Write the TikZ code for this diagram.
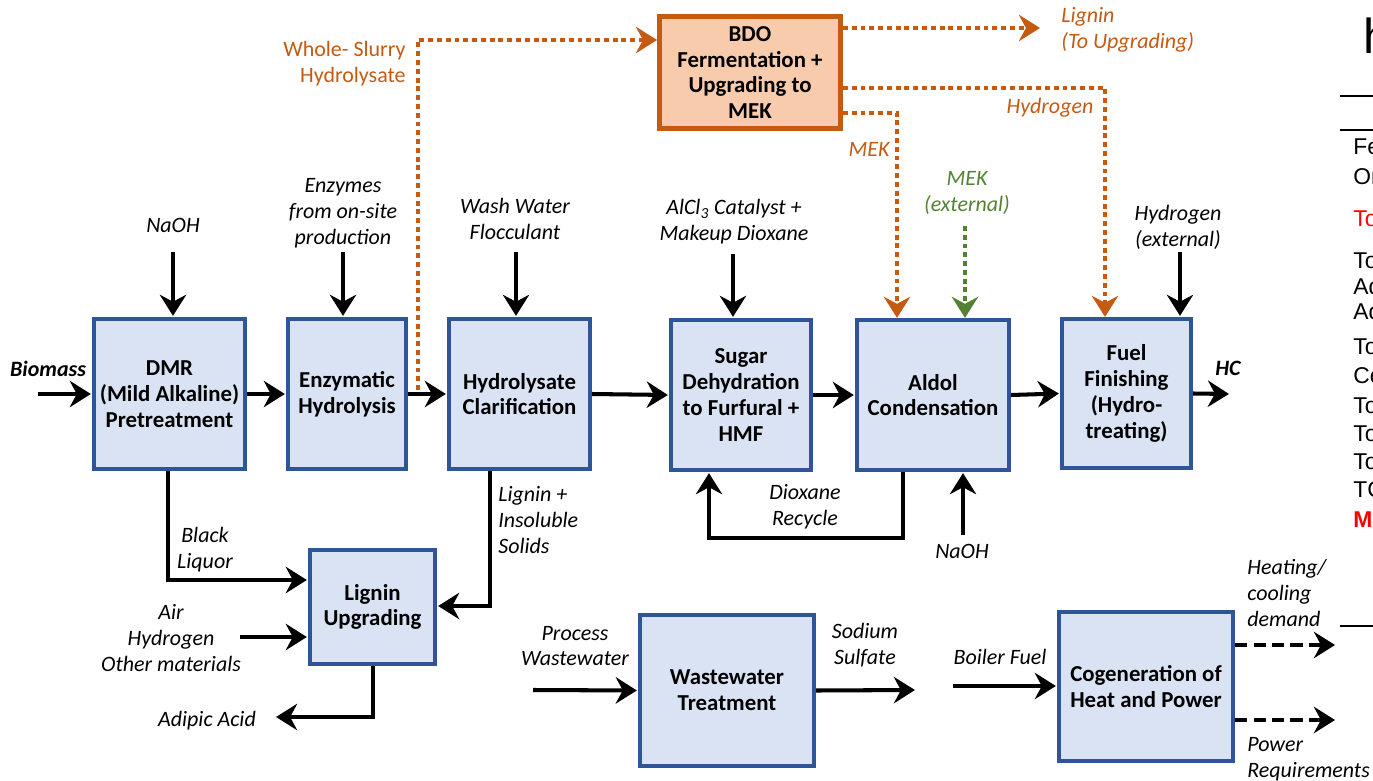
\documentclass[tikz,border=0pt]{standalone}
\usepackage{fontspec}
\setmainfont{Carlito}
\newfontfamily\tablefont{Liberation Sans}
\usetikzlibrary{arrows.meta}
\definecolor{boxblue}{HTML}{2F5597}
\definecolor{boxfill}{HTML}{DAE3F3}
\definecolor{bdoline}{HTML}{C55A11}
\definecolor{bdofill}{HTML}{F8CBAD}
\definecolor{mekgreen}{HTML}{548235}
\definecolor{tblred}{HTML}{FF0000}
\begin{document}
\begin{tikzpicture}[x=0.02cm,y=-0.02cm,
    unit/.style={draw=boxblue,fill=boxfill,line width=2.4pt,align=center,
      inner sep=1pt,font=\fontsize{13}{14.7}\selectfont\bfseries},
    bdobox/.style={unit,draw=bdoline,fill=bdofill,line width=2.8pt},
    lbl/.style={align=center,inner sep=0pt,font=\fontsize{12.5}{14.7}\selectfont\itshape},
    flow/.style={line width=2.3pt,shorten >=0.6pt,
      -{Stealth[length=12pt,width=15pt,inset=4pt]}},
    sideflow/.style={bdoline,line width=2.8pt,dash pattern=on 2.8pt off 2.2pt,
      -{Stealth[length=12pt,width=15pt,inset=4pt]}},
    extflow/.style={sideflow,mekgreen},
    utilflow/.style={line width=2.8pt,dash pattern=on 7pt off 3.5pt,
      -{Stealth[length=12pt,width=15pt,inset=4pt]}}]
  \useasboundingbox (0,0) rectangle (1373,781);

  % process units
  \node[unit,minimum width=3.02cm,minimum height=3.0cm] (dmr) at (169.5,394)
    {DMR\\(Mild Alkaline)\\Pretreatment};
  \node[unit,minimum width=2.36cm,minimum height=3.0cm] (enz) at (347,394)
    {Enzymatic\\Hydrolysis};
  \node[unit,minimum width=2.82cm,minimum height=3.0cm] (clar) at (519.5,394)
    {Hydrolysate\\Clarification};
  \node[unit,minimum width=2.8cm,minimum height=3.0cm] (dehyd) at (741,395)
    {Sugar\\Dehydration\\to Furfural +\\HMF};
  \node[unit,minimum width=3.04cm,minimum height=3.0cm] (aldol) at (933,395)
    {Aldol\\Condensation};
  \node[unit,minimum width=2.58cm,minimum height=2.98cm] (fuel) at (1126.5,393.5)
    {Fuel\\Finishing\\(Hydro-\\treating)};
  \node[bdobox,minimum width=3.62cm,minimum height=2.24cm] (bdo) at (750,72.5)
    {BDO\\Fermentation +\\Upgrading to\\MEK};
  \node[unit,minimum width=2.5cm,minimum height=2.28cm] (lignin) at (372.5,607)
    {Lignin\\Upgrading};
  \node[unit,minimum width=3.48cm,minimum height=3.02cm] (wwt) at (727,690.5)
    {Wastewater\\Treatment};
  \node[unit,minimum width=3.48cm,minimum height=2.98cm] (chp) at (1146,686.5)
    {Cogeneration of\\Heat and Power};

  % stream labels
  \node[lbl,font=\fontsize{12.5}{14.7}\selectfont\bfseries\itshape] (biomass) at (48,369) {Biomass};
  \node[lbl,font=\fontsize{12.5}{14.7}\selectfont\bfseries\itshape] (hc) at (1228,368) {HC};
  \node[lbl] (naoh) at (173,225) {NaOH};
  \node[lbl] (enzymes) at (343,213) {Enzymes\\from on-site\\production};
  \node[lbl] (wash) at (515,219) {Wash Water\\Flocculant};
  \node[lbl] (alcl) at (734,222) {AlCl\textsubscript{3} Catalyst +\\Makeup Dioxane};
  \node[lbl,text=mekgreen] (mekext) at (967,193) {MEK\\(external)};
  \node[lbl] (h2ext) at (1178,227) {Hydrogen\\(external)};
  \node[lbl,font=\fontsize{12.5}{14.7}\selectfont,text=bdoline,anchor=east,align=right]
    (slurry) at (406,64) {Whole- Slurry\\Hydrolysate};
  \node[lbl,text=bdoline,anchor=west,align=left] (ligninout) at (1061,30)
    {Lignin\\(To Upgrading)};
  \node[lbl,text=bdoline] (h2lbl) at (1050,108) {Hydrogen};
  \node[lbl,text=bdoline] (meklbl) at (869,149) {MEK};
  \node[lbl] (black) at (205,550) {Black\\Liquor};
  \node[lbl,anchor=west,align=left] (solids) at (498,520) {Lignin +\\Insoluble\\Solids};
  \node[lbl] (air) at (171,638) {Air\\Hydrogen\\Other materials};
  \node[lbl] (adipic) at (207,721) {Adipic Acid};
  \node[lbl] (dioxane) at (805,507) {Dioxane\\Recycle};
  \node[lbl] (naohb) at (962,551) {NaOH};
  \node[lbl] (process) at (575,646) {Process\\Wastewater};
  \node[lbl] (sulfate) at (865,645) {Sodium\\Sulfate};
  \node[lbl] (boiler) at (1000,657) {Boiler Fuel};
  \node[lbl,anchor=west,align=left] (heat) at (1247,593) {Heating/\\cooling\\demand};
  \node[lbl,anchor=west,align=left] (power) at (1247,759) {Power\\Requirements};

  % free stream ends
  \coordinate (bmin) at (38,394);
  \coordinate (hcout) at (1230,394);
  \coordinate (naohin) at (173,252);
  \coordinate (enzin) at (343,252);
  \coordinate (washin) at (516,252);
  \coordinate (alclin) at (733,254);
  \coordinate (mekin) at (965,226);
  \coordinate (h2in) at (1180,252);
  \coordinate (slurrystart) at (418,390);
  \coordinate (slurrytop) at (418,40);
  \coordinate (ligninend) at (1040,28);
  \coordinate (h2bend) at (1105,88);
  \coordinate (mekbend) at (897,113);
  \coordinate (blbend) at (168,580);
  \coordinate (lsbend) at (490,606);
  \coordinate (airin) at (240,637);
  \coordinate (adbend) at (373,717);
  \coordinate (adout) at (275,717);
  \coordinate (recycr) at (903,538);
  \coordinate (recycl) at (709,538);
  \coordinate (naohbin) at (963,535);
  \coordinate (pwin) at (533,690);
  \coordinate (ssout) at (916,690);
  \coordinate (bfin) at (953,686);
  \coordinate (heatout) at (1335,645);
  \coordinate (powout) at (1335,720);

  % main line
  \draw[flow] (bmin) -- (dmr.west);
  \draw[flow] (dmr.east) -- (enz.west);
  \draw[flow] (enz.east) -- (clar.west);
  \draw[flow] (clar.east) -- (dehyd.west);
  \draw[flow] (dehyd.east) -- (aldol.west);
  \draw[flow] (aldol.east) -- (fuel.west);
  \draw[flow] (fuel.east) -- (hcout);

  % feeds
  \draw[flow] (naohin) -- (naohin |- dmr.north);
  \draw[flow] (enzin) -- (enzin |- enz.north);
  \draw[flow] (washin) -- (washin |- clar.north);
  \draw[flow] (alclin) -- (alclin |- dehyd.north);
  \draw[extflow] (mekin) -- (mekin |- aldol.north);
  \draw[flow] (h2in) -- (h2in |- fuel.north);
  \draw[flow] (naohbin) -- (naohbin |- aldol.south);

  % BDO side train
  \draw[sideflow] (slurrystart) -- (slurrytop) -- (slurrytop -| bdo.west);
  \draw[sideflow] (bdo.east |- ligninend) -- (ligninend);
  \draw[sideflow] (bdo.east |- h2bend) -- (h2bend) -- (h2bend |- fuel.north);
  \draw[sideflow] (bdo.east |- mekbend) -- (mekbend) -- (mekbend |- aldol.north);

  % recycle and lignin
  \draw[flow] (recycr |- aldol.south) -- (recycr) -- (recycl) -- (recycl |- dehyd.south);
  \draw[flow] (blbend |- dmr.south) -- (blbend) -- (blbend -| lignin.west);
  \draw[flow] (lsbend |- clar.south) -- (lsbend) -- (lsbend -| lignin.east);
  \draw[flow] (airin) -- (airin -| lignin.west);
  \draw[flow] (adbend |- lignin.south) -- (adbend) -- (adout);

  % utilities
  \draw[flow] (pwin) -- (wwt.west);
  \draw[flow] (wwt.east) -- (ssout);
  \draw[flow] (bfin) -- (bfin -| chp.west);
  \draw[utilflow] (heatout -| chp.east) -- (heatout);
  \draw[utilflow] (powout -| chp.east) -- (powout);

  % cut-off table at the right edge
  \begin{scope}
    \clip (1338,0) rectangle (1373,781);
    \draw[line width=1.1pt] (1340,96) -- (1380,96) (1340,130) -- (1380,130)
      (1340,626) -- (1380,626);
    \begin{scope}[every node/.style={anchor=west,inner sep=0pt,
        font=\tablefont\fontsize{13}{15}\selectfont}]
      \node[font=\tablefont\fontsize{28}{30}\selectfont] (tbh) at (1363,36) {h};
      \node (tb1) at (1353,147) {Fe};
      \node (tb2) at (1353,177) {Or};
      \node[text=tblred] (tb3) at (1353,219) {To};
      \node (tb4) at (1353,261) {To};
      \node (tb5) at (1353,286) {Ad};
      \node (tb6) at (1353,311) {Ad};
      \node (tb7) at (1353,347) {To};
      \node (tb8) at (1353,376) {Co};
      \node (tb9) at (1353,406) {To};
      \node (tb10) at (1353,434) {To};
      \node (tb11) at (1353,462) {To};
      \node (tb12) at (1353,490) {TC};
      \node[text=tblred,font=\tablefont\bfseries\fontsize{13}{15}\selectfont] (tb13) at (1353,520) {M};
    \end{scope}
  \end{scope}
\end{tikzpicture}
\end{document}
